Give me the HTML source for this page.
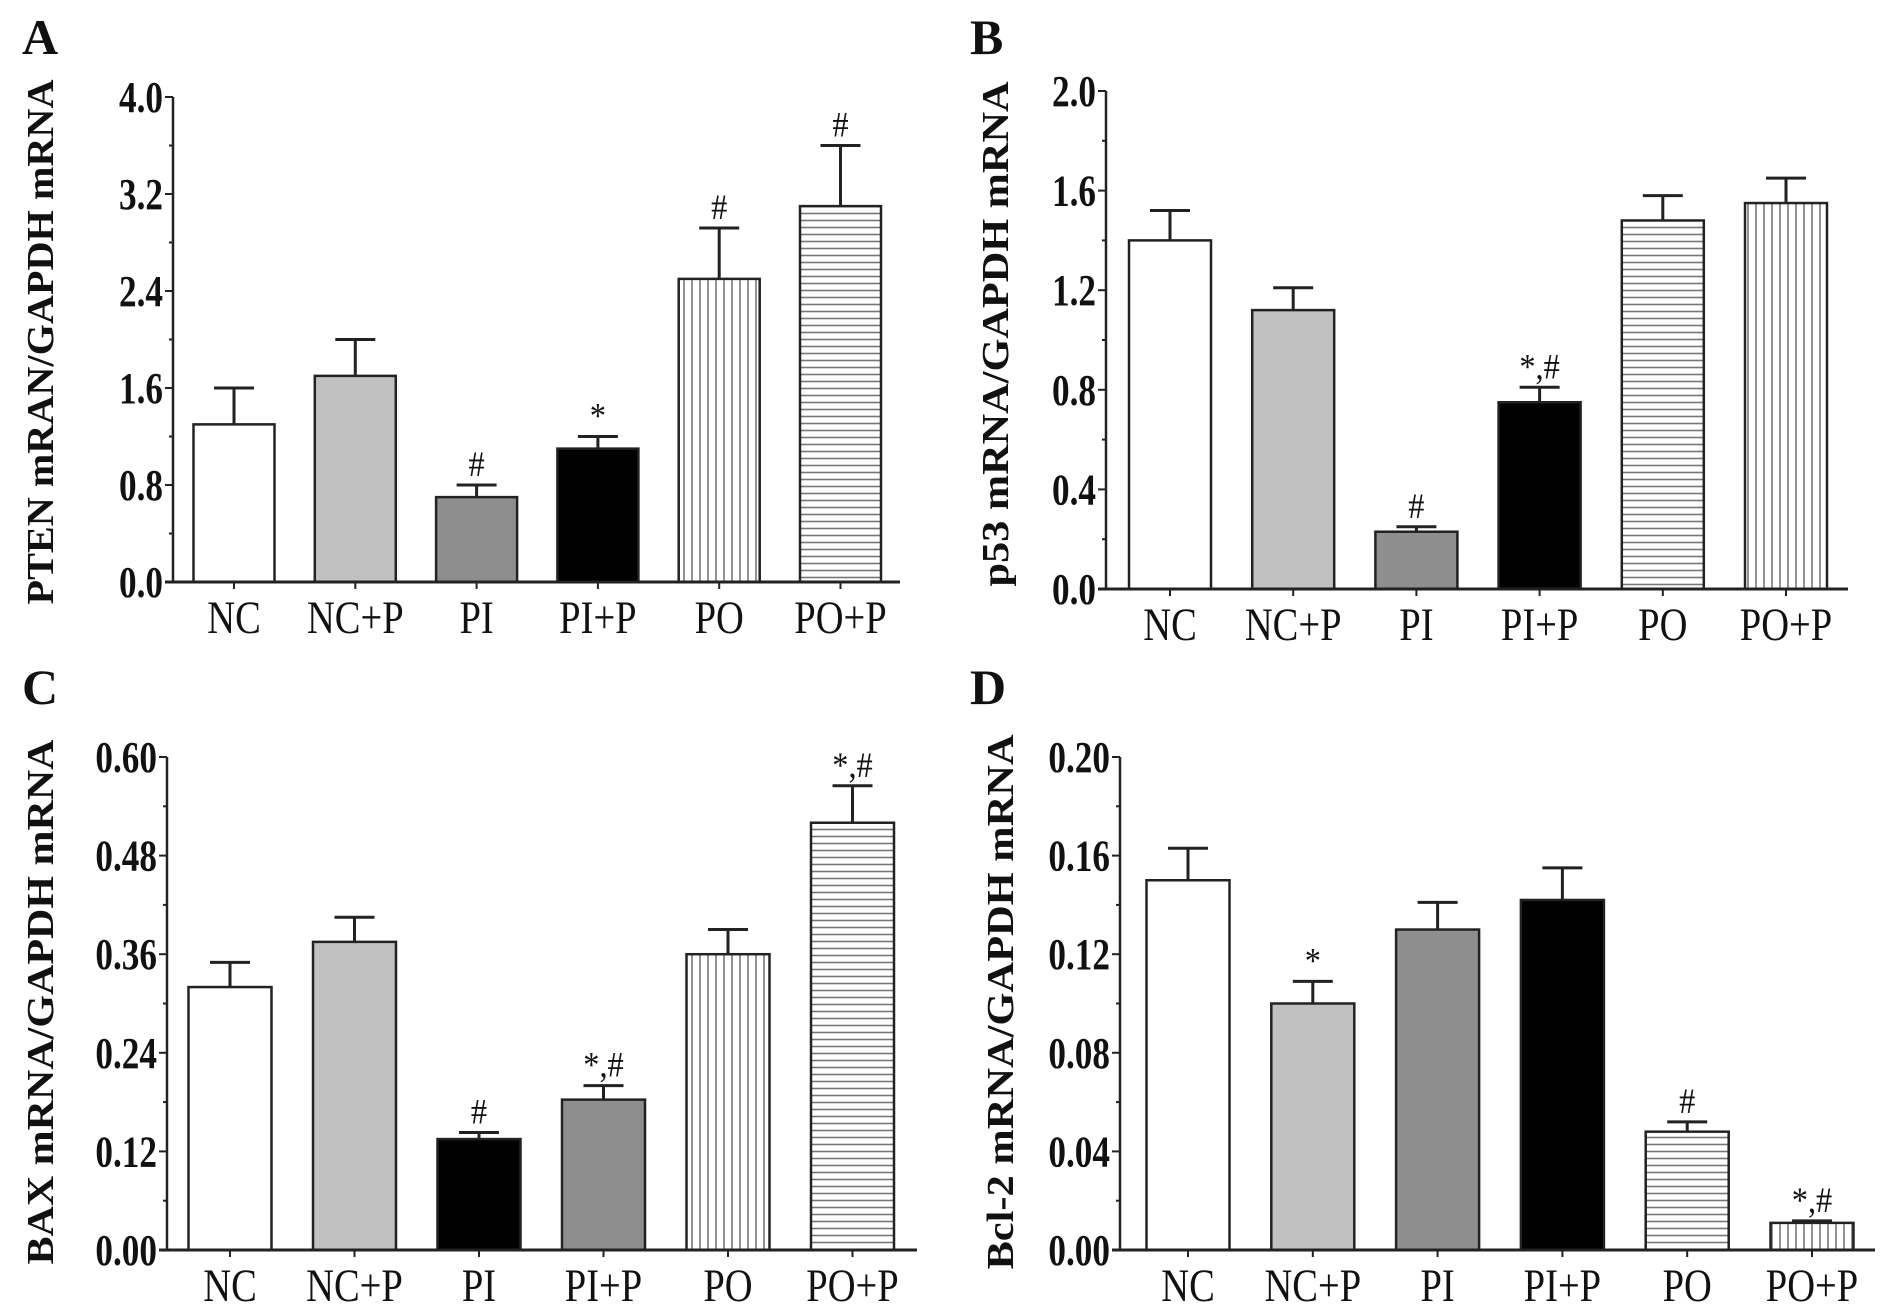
<!DOCTYPE html>
<html><head><meta charset="utf-8"><style>
html,body{margin:0;padding:0;background:#fff;}
svg{display:block;}
text{font-family:"Liberation Serif",serif;fill:#111;}
</style></head><body>
<svg id="fig" width="1890" height="1315" viewBox="0 0 1890 1315" xmlns="http://www.w3.org/2000/svg">
<defs>
<pattern id="vlines" patternUnits="userSpaceOnUse" width="8" height="8"><rect width="8" height="8" fill="#fff"/><line x1="4" y1="0" x2="4" y2="8" stroke="#777" stroke-width="1.6"/></pattern>
<pattern id="hlines" patternUnits="userSpaceOnUse" width="8" height="7"><rect width="8" height="7" fill="#fff"/><line x1="0" y1="3.5" x2="8" y2="3.5" stroke="#777" stroke-width="1.6"/></pattern>
</defs>
</svg>
<script>
const categories = ["NC","NC+P","PI","PI+P","PO","PO+P"];
const valuesA = [1.3,1.7,0.7,1.1,2.5,3.1];
const errorsA = [0.3,0.3,0.1,0.1,0.42,0.5];
const annotA = ["","","#","*","#","#"];
const ticksA = ["0.0","0.8","1.6","2.4","3.2","4.0"];
const valuesB = [1.4,1.12,0.23,0.75,1.48,1.55];
const errorsB = [0.12,0.09,0.02,0.06,0.1,0.1];
const annotB = ["","","#","*,#","",""];
const ticksB = ["0.0","0.4","0.8","1.2","1.6","2.0"];
const valuesC = [0.32,0.375,0.135,0.183,0.36,0.52];
const errorsC = [0.03,0.03,0.008,0.017,0.03,0.045];
const annotC = ["","","#","*,#","","*,#"];
const ticksC = ["0.00","0.12","0.24","0.36","0.48","0.60"];
const valuesD = [0.15,0.1,0.13,0.142,0.048,0.011];
const errorsD = [0.013,0.009,0.011,0.013,0.004,0.0008];
const annotD = ["","*","","","#","*,#"];
const ticksD = ["0.00","0.04","0.08","0.12","0.16","0.20"];

const NS="http://www.w3.org/2000/svg";
const svg=document.getElementById('fig');
function mk(tag,attrs,parent){const e=document.createElementNS(NS,tag);for(const k in attrs)e.setAttribute(k,attrs[k]);(parent||svg).appendChild(e);return e;}

const panels=[
 {id:'a',letter:'A',lx:22,ly:54,title:'PTEN mRAN/GAPDH mRNA',tx:40,tcy:342,tlen:525,ax:173,top:97,y0:582,xend:900,first:234,pitch:121.3,bw:81,max:4.0,vals:valuesA,errs:errorsA,ann:annotA,ticks:ticksA,fills:['#fff','#c0c0c0','#8e8e8e','#000','url(#vlines)','url(#hlines)']},
 {id:'b',letter:'B',lx:970,ly:54,title:'p53 mRNA/GAPDH mRNA',tx:995,tcy:334,tlen:505,ax:1106,top:91,y0:589,xend:1848,first:1170,pitch:123.2,bw:82,max:2.0,vals:valuesB,errs:errorsB,ann:annotB,ticks:ticksB,fills:['#fff','#c0c0c0','#8e8e8e','#000','url(#hlines)','url(#vlines)']},
 {id:'c',letter:'C',lx:22,ly:704,title:'BAX mRNA/GAPDH mRNA',tx:40,tcy:1002,tlen:525,ax:167,top:757,y0:1250,xend:917,first:230,pitch:124.5,bw:83,max:0.6,vals:valuesC,errs:errorsC,ann:annotC,ticks:ticksC,fills:['#fff','#c0c0c0','#000','#8e8e8e','url(#vlines)','url(#hlines)']},
 {id:'d',letter:'D',lx:970,ly:704,title:'Bcl-2 mRNA/GAPDH mRNA',tx:1000,tcy:1002,tlen:535,ax:1120,top:757,y0:1250,xend:1875,first:1188,pitch:124.8,bw:83,max:0.2,vals:valuesD,errs:errorsD,ann:annotD,ticks:ticksD,fills:['#fff','#c0c0c0','#8e8e8e','#000','url(#hlines)','url(#vlines)']}
];

panels.forEach(p=>{
 const g=mk('g',{});
 
 
 const y=v=>p.y0-(v/p.max)*(p.y0-p.top);
 const xc=i=>p.first+i*p.pitch;
 const L=mk('text',{x:p.lx,y:p.ly,'font-size':50,'font-weight':'bold'},g);L.textContent=p.letter;
 
 
 const T=mk('text',{x:0,y:0,'font-size':38,'font-weight':'bold','text-anchor':'middle',textLength:p.tlen,lengthAdjust:'spacingAndGlyphs',transform:`translate(${p.tx+13},${p.tcy}) rotate(-90)`},g);T.textContent=p.title;
 
 
 p.vals.forEach((v,i)=>{
  const x=xc(i), yt=y(v), ye=y(v+p.errs[i]);
  const el=mk('line',{x1:x,y1:ye,x2:x,y2:yt,stroke:'#222','stroke-width':3},g);
  
  
  const cap=mk('line',{x1:x-20,y1:ye,x2:x+20,y2:ye,stroke:'#222','stroke-width':3},g);
  
  
  const r=mk('rect',{x:x-p.bw/2,y:yt,width:p.bw,height:p.y0-yt,fill:p.fills[i],stroke:'#222','stroke-width':2.5},g);
  
  
  if(p.ann[i]){
   const a=mk('text',{x:0,y:0,'font-size':36,'text-anchor':'middle',fill:'#333',transform:`translate(${x},${ye-9}) scale(0.9,1)`},g);a.textContent=p.ann[i];
   
   
  }
  const tk=mk('line',{x1:x,y1:p.y0,x2:x,y2:p.y0+7,stroke:'#222','stroke-width':2},g);
  
  
  const lb=mk('text',{x:0,y:0,'font-size':47,'text-anchor':'middle',transform:`translate(${x},${p.y0+51}) scale(0.82,1)`},g);lb.textContent=categories[i];
  
  
 });
 const ya=mk('line',{x1:p.ax,y1:p.top,x2:p.ax,y2:p.y0,stroke:'#222','stroke-width':2.5},g);
 
 
 const xa=mk('line',{x1:p.ax-8,y1:p.y0,x2:p.xend,y2:p.y0,stroke:'#222','stroke-width':3},g);
 
 
 const n=p.ticks.length-1;
 for(let k=0;k<=n*2;k++){
  const v=p.max*k/(n*2), yy=y(v);
  mk('line',{x1:p.ax-(k%2?4:8),y1:yy,x2:p.ax,y2:yy,stroke:'#222','stroke-width':2},g);
 }
 p.ticks.forEach((t,k)=>{
  const tt=mk('text',{x:0,y:0,'font-size':44,'font-weight':'bold','text-anchor':'end',transform:`translate(${p.ax-10},${y(p.max*k/n)+15}) scale(0.8,1)`},g);tt.textContent=t;
  
  
 });
});
</script>
</body></html>
